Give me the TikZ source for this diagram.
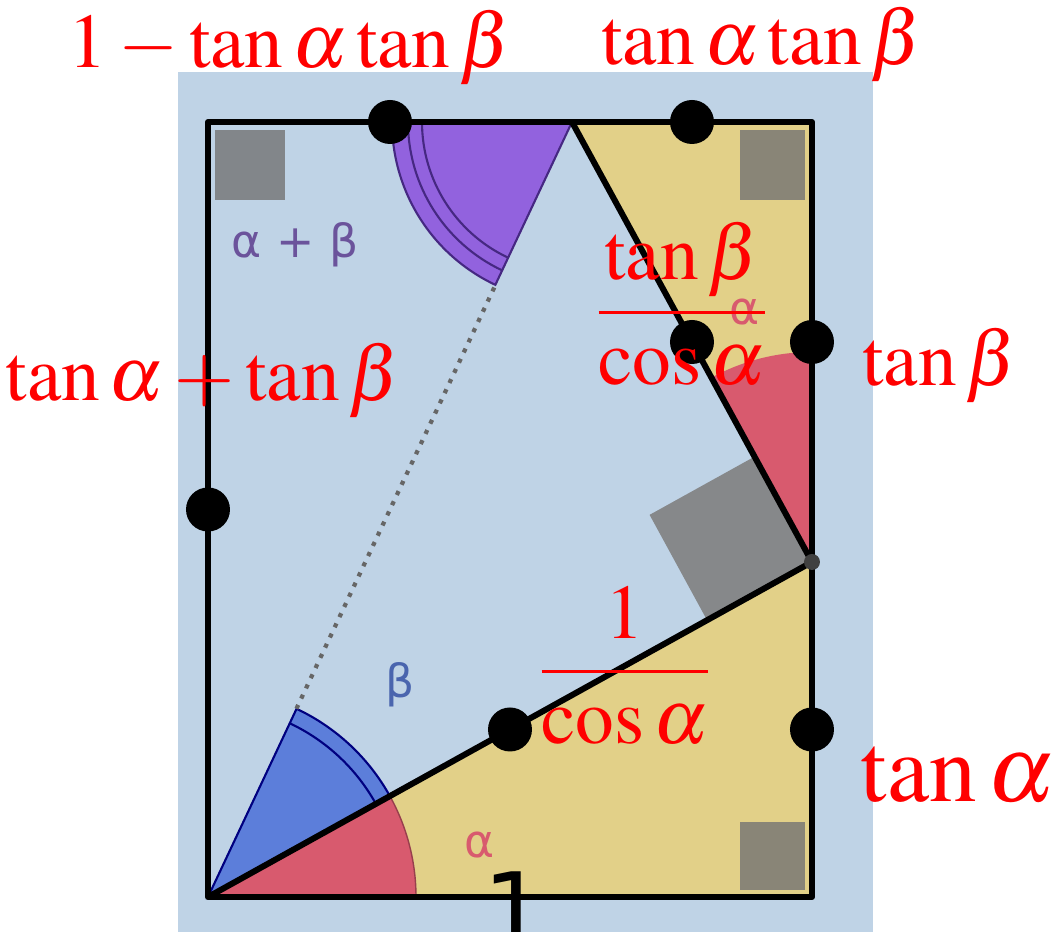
\documentclass[tikz,border=0pt]{standalone}
\usepackage{mathptmx}
\usepackage{fontspec}
\setmainfont{Liberation Serif}
\newfontfamily\figfont{DejaVu Sans}
\usetikzlibrary{calc}

\definecolor{bgblue}{RGB}{191,211,230}
\definecolor{sand}{RGB}{226,208,136}
\definecolor{rosered}{RGB}{216,90,110}
\definecolor{skyblue}{RGB}{92,126,218}
\definecolor{anglepurple}{RGB}{146,98,222}
\definecolor{darkpurple}{RGB}{70,40,130}

\begin{document}
\begin{tikzpicture}[
        dot/.style={circle, fill=black, inner sep=0pt, minimum size=0.44cm},
        lbl/.style={text=red, inner sep=0pt, font=\fontsize{22}{26}\selectfont},
        tag/.style={inner sep=0pt, font=\figfont\fontsize{13}{15}\selectfont},
        thickline/.style={line width=0.06cm, line join=round},
        corner/.style={fill=black!55, fill opacity=0.8}
        ]

        \useasboundingbox (0,0) rectangle (10.61,9.32);
        \fill[bgblue] (1.78,0) rectangle (8.73,8.60);

        % corners of the frame
        \coordinate (O) at (2.08,0.35);
        \coordinate (BR) at (8.12,0.35);
        \coordinate (TR) at (8.12,8.10);
        \coordinate (TL) at (2.08,8.10);
        \coordinate (P) at (8.12,3.70);
        \coordinate (Q) at (5.72,8.10);

        % yellow triangles
        \fill[sand] (O) -- (BR) -- (P) -- cycle;
        \fill[sand] (Q) -- (TR) -- (P) -- cycle;

        % angle sectors
        \filldraw[fill=rosered, draw=rosered!70!black, thin] (O) -- ++(0:2.08) arc[start angle=0, end angle=29, radius=2.08] -- cycle;
        \filldraw[fill=skyblue, draw=blue!50!black, semithick] (O) -- ++(29:2.08) arc[start angle=29, end angle=64.8, radius=2.08] -- cycle;
        \draw[blue!50!black, semithick] ($(O)+(29:1.92)$) arc[start angle=29, end angle=64.8, radius=1.92];
        \filldraw[fill=anglepurple, draw=darkpurple, semithick] (Q) -- ++(180:1.8) arc[start angle=180, end angle=244.8, radius=1.8] -- cycle;
        \draw[darkpurple, semithick] ($(Q)+(180:1.64)$) arc[start angle=180, end angle=244.8, radius=1.64];
        \draw[darkpurple, semithick] ($(Q)+(180:1.5)$) arc[start angle=180, end angle=244.8, radius=1.5];
        \fill[rosered] (P) -- ++(90:2.1) arc[start angle=90, end angle=118.6, radius=2.1] -- cycle;

        % right angle marks
        \fill[corner] ($(TL)+(0.07,-0.08)$) rectangle ++(0.70,-0.70);
        \fill[corner] ($(TR)+(-0.07,-0.08)$) rectangle ++(-0.65,-0.70);
        \fill[corner] ($(BR)+(-0.07,0.07)$) rectangle ++(-0.65,0.68);
        \coordinate (PA) at ($(P)!1.2cm!(O)$);
        \coordinate (PB) at ($(P)!1.2cm!(Q)$);
        \fill[black!50, fill opacity=0.9] (P) -- (PA) -- ($(PA)+(PB)-(P)$) -- (PB) -- cycle;

        % lines
        \draw[thickline] (O) rectangle (TR);
        \draw[thickline] (O) -- (P) -- (Q);
        \draw[black!60, dotted, line width=1.2pt] ($(O)!2.08cm!(Q)$) -- ($(Q)!1.8cm!(O)$);

        % midpoints
        \node[dot] (mtopl) at ($(TL)!0.5!(Q)$) {};
        \node[dot] (mtopr) at ($(Q)!0.5!(TR)$) {};
        \node[dot] (mleft) at ($(O)!0.5!(TL)$) {};
        \node[dot] (mpq) at ($(P)!0.5!(Q)$) {};
        \node[dot] (mright) at ($(P)!0.5!(TR)$) {};
        \node[dot] (mop) at ($(O)!0.5!(P)$) {};
        \node[dot] (mlow) at ($(BR)!0.5!(P)$) {};
        \node[circle, fill=black!75, inner sep=0pt, minimum size=0.16cm] (vp) at (P) {};

        % small angle names
        \node[tag, text=darkpurple!80] (tsum) at (2.95,6.87) {α + β};
        \node[tag, text=rosered] (tatop) at (7.45,6.20) {α};
        \node[tag, text=skyblue!80!black] (tbeta) at (4.00,2.47) {β};
        \node[tag, text=rosered] (talow) at (4.80,0.87) {α};
        \node[font=\figfont\fontsize{28}{32}\selectfont, inner sep=0pt] (tone) at (5.15,0.24) {1};

        % red labels
        \node[lbl] (ldiff) at (2.90,8.85) {$1-\tan\alpha\tan\beta$};
        \node[lbl] (lprod) at (7.62,8.88) {$\tan\alpha\tan\beta$};
        \node[lbl] (lsum) at (2.03,5.52) {$\tan\alpha+\tan\beta$};
        \node[lbl] (lfracb) at (6.82,6.28) {$\displaystyle\frac{\tan\beta}{\cos\alpha}$};
        \node[lbl] (ltanb) at (9.40,5.67) {$\tan\beta$};
        \node[lbl] (lfraca) at (6.25,2.66) {$\displaystyle\frac{1}{\cos\alpha}$};
        \node[lbl, font=\fontsize{27}{32}\selectfont] (ltana) at (9.58,1.57) {$\tan\alpha$};
    \end{tikzpicture}
\end{document}
